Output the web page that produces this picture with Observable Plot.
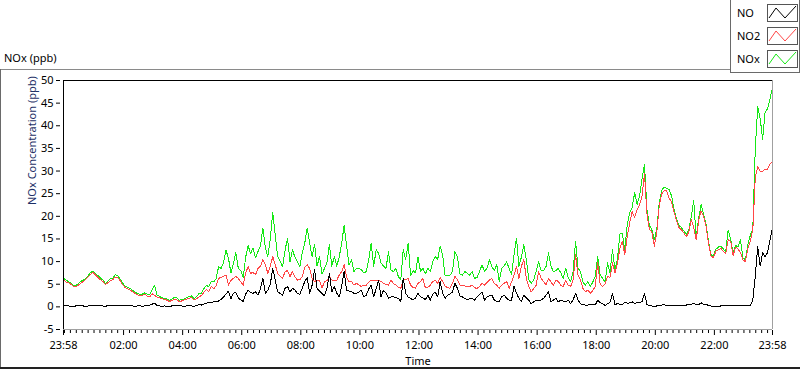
<!DOCTYPE html>
<html>
<head>
<meta charset="utf-8">
<script src="https://cdn.jsdelivr.net/npm/d3@7"></script>
<script src="https://cdn.jsdelivr.net/npm/@observablehq/plot@0.6"></script>
<style>
  body { margin: 0; background: #fff; }
  #wrap { position: relative; width: 800px; height: 369px; overflow: hidden; font-family: "Noto Sans", sans-serif; font-size: 11px; color: #000; background: #fff; }
  #wrap svg { position: absolute; left: 0; top: 0; }
  .abs { position: absolute; }
  .ltxt { position: absolute; left: 737px; font-size: 11px; line-height: 14px; color: #000; }
  .sw { position: absolute; left: 767px; width: 29px; height: 16px; border: 1px solid #555; background: #fff; }
</style>
</head>
<body>
<div id="wrap"></div>
<script>
// ---- data (5-minute samples starting 23:58) ----
const startTime = "2024-01-01T23:58:00Z";
const stepMinutes = 5;

const NO = [
  0.2,0.3,0.2,0.1,0.1,0.2,0.3,0.2,0.2,0.1, 0.2,0.3,0.3,0.2,0.4,0.3,0.2,0.1,0.3,0.2,
  0.2,0.4,0.3,0.2,0.3,0.2,0.2,0.3,0.2,0.1, 0.2,0.3,0.1,0.2,0.3,0.4,0.6,0.8,0.3,0.2,
  0.1,0.2,0.1,0.1,0.2,0.3,0.3,0.2,0.2,0.1, 0.2,0.2,0.2,0.1,0.3,0.5,0.4,0.6,0.8,1.0,
  0.9,
  1.1,1.2,1.3,1.6,2.2,2.8,3.5,1.8,3.0,3.2,2.0,1.5,
  1.2,2.8,3.7,3.2,3.0,3.3,2.6,4.0,6.3,3.0, 3.7,5.0,8.5,5.9,3.3,3.0,2.6,4.1,4.5,3.3,
  4.1,3.7,3.0,2.8,4.1,5.6,6.5,3.0,4.8,8.2, 4.1,3.5,3.0,2.4,4.0,7.4,3.3,4.5,3.0,2.2,
  4.5,7.8,3.7,3.5,3.3,3.0,3.0,3.3,3.7,2.2, 2.6,4.0,4.8,2.2,4.0,5.9,2.2,3.7,3.0,1.9,
  2.2,2.2,2.0,1.9,1.1,6.3,3.0,2.2,1.9,1.5, 2.0,3.0,2.2,2.0,1.6,
  2.6,1.5,2.8,3.3,2.2,5.6,3.0,1.9,2.6,2.8, 3.3,5.2,4.1,2.4,2.2,1.9,1.5,1.8,1.9,1.5,
  2.2,2.8,3.3,1.5,2.2,2.4,2.6,1.5,1.2,1.1, 2.2,2.6,1.9,1.5,1.5,4.5,3.0,1.9,1.1,2.6,
  2.0,1.5,0.7,1.1,1.5,1.5,1.5,1.9,2.6,3.3, 1.1,1.5,1.9,1.1,1.5,1.3,1.1,1.5,0.7,1.5,
  3.0,1.5,0.7,0.5,0.4,0.4,0.6,0.5,0.4,1.5, 0.9,0.7,
  0.3,0.7,1.0,3.0,0.5,0.7,0.6,0.5,1.0,0.8, 0.9,1.1,0.7,1.0,0.9,1.2,3.0,0.5,0.2,0.2,
  0.1,0.2,0.3,0.4,0.5,0.3,0.2,0.2,0.3,0.2, 0.2,0.3,0.2,0.4,0.6,0.5,0.8,0.4,0.5,0.9,
  0.5,0.6,0.3,0.2,0.1,0.2,0.1,0.2,0.3,0.2, 0.4,0.3,0.2,0.3,0.2,0.4,0.3,0.2,0.3,0.2,
  1.5,6.7,13.4,9.0,12.0,11.1,12.0,14.8,17.5
];
const NO2 = [
  6.0,5.5,5.3,5.0,4.6,4.4,4.8,5.2,5.6,6.0, 6.6,7.2,7.6,7.0,6.5,6.0,5.6,5.0,5.3,5.8,
  6.0,6.6,6.5,5.8,4.9,4.3,4.0,3.7,3.4,3.0, 2.7,2.4,2.5,2.8,2.4,2.2,2.9,2.5,2.2,2.0,
  1.8,1.6,1.5,1.2,1.4,1.7,1.6,1.2,1.3,1.5, 1.7,1.9,2.1,1.6,1.8,2.2,2.5,3.2,3.8,3.4,
  4.5,
  4.0,4.6,6.3,6.5,6.8,7.0,4.8,5.8,6.3,6.7,6.3,5.5,
  4.8,7.5,8.9,7.4,7.6,7.1,8.5,9.0,10.4,9.3, 7.4,9.0,11.1,9.3,7.4,6.8,6.3,7.8,8.0,6.7,
  7.8,6.7,5.9,6.0,6.7,8.8,9.3,8.5,6.3,5.6, 5.9,5.9,4.1,5.6,5.8,6.7,5.9,5.9,5.9,7.0,
  7.8,9.3,6.5,5.6,5.6,4.8,5.2,4.8,4.5,4.8, 4.8,5.5,5.9,5.9,5.9,5.8,5.6,5.2,5.0,4.8,
  5.9,5.2,4.8,4.3,4.1,5.9,6.0,6.3,4.8,4.3, 4.1,5.2,5.6,6.3,4.2,
  4.3,4.8,5.6,5.9,5.2,6.5,5.6,4.5,4.3,4.1, 5.2,6.7,6.0,4.8,4.8,4.6,4.5,4.5,4.8,4.2,
  4.1,4.5,5.2,4.8,5.4,5.9,6.3,5.2,4.8,4.1, 4.8,5.2,5.6,4.1,5.5,7.0,8.9,6.3,9.0,10.4,
  6.3,4.5,3.3,4.0,4.8,7.8,6.3,5.6,4.8,6.3, 5.5,4.8,5.9,5.6,4.8,4.5,5.9,4.8,4.5,5.9,
  11.5,7.1,5.9,4.1,3.3,3.7,3.0,3.6,4.5,9.7, 5.0,4.5,
  5.0,6.7,6.5,9.7,7.5,9.5,13.0,14.5,11.5,15.5, 18.6,21.0,19.8,21.5,22.5,24.5,29.5,20.5,17.1,16.5,
  13.4,16.5,22.3,25.0,25.6,25.6,24.0,23.2,21.0,19.0, 17.5,17.0,16.3,15.5,16.5,19.3,17.5,14.8,19.0,21.2,
  20.0,17.8,14.0,11.2,10.9,12.3,12.6,12.9,12.3,11.8, 14.8,14.5,11.3,13.2,12.8,12.0,10.4,10.0,13.0,14.6,
  17.0,28.5,31.0,30.0,30.0,30.4,30.4,31.6,32.0
];
const NOx = [
  6.3,5.9,5.6,5.2,4.8,4.7,5.1,5.6,5.9,6.2, 6.9,7.6,7.9,7.3,6.9,6.4,5.9,5.2,5.6,6.2,
  6.3,7.1,6.9,6.1,5.3,4.6,4.3,4.1,3.7,3.2, 3.0,2.8,2.8,3.1,2.8,2.7,3.8,4.8,2.6,2.3,
  2.0,1.9,1.7,1.4,1.7,2.1,2.0,1.5,1.6,1.7, 2.0,2.3,2.4,1.8,2.2,2.9,3.0,4.0,4.7,4.5,
  5.5,
  5.5,6.2,8.9,8.5,9.7,12.5,10.8,7.5,9.5,12.0,8.5,8.0,
  6.5,11.0,13.5,11.8,13.0,10.8,12.2,13.5,17.4,13.0, 11.1,15.0,20.9,16.0,11.1,10.0,8.9,12.5,15.2,10.0,
  12.6,11.0,10.0,8.9,12.0,14.1,17.4,14.0,11.1,13.8, 9.0,11.1,7.2,8.5,9.7,13.7,9.0,11.1,9.0,11.0,
  14.1,18.0,13.4,9.2,10.4,7.8,8.5,8.5,8.2,7.5, 7.8,10.5,14.1,8.9,12.6,11.8,9.7,9.0,8.5,12.2,
  8.2,7.8,8.5,6.7,6.0,12.6,10.5,14.1,6.9,8.0, 7.5,11.1,7.9,8.5,7.3,
  8.5,7.8,10.0,11.1,10.5,13.4,11.5,6.9,7.0,7.0, 7.8,12.2,11.1,7.3,7.0,7.8,7.4,7.0,7.8,6.3,
  6.5,7.8,9.3,7.8,8.5,10.4,8.9,8.0,9.3,5.6, 8.5,9.0,10.0,8.5,7.1,11.5,15.2,8.9,11.0,13.7,
  10.4,6.0,5.2,6.0,7.8,10.0,8.0,8.0,8.9,11.9, 9.0,7.8,8.0,8.5,7.5,6.3,8.5,6.5,5.6,7.8,
  14.5,8.6,7.8,5.5,4.8,5.6,4.5,5.5,6.7,11.1, 7.0,6.3,
  5.5,9.7,7.5,12.7,8.2,10.5,16.1,16.3,12.5,18.2, 20.8,22.0,25.2,22.6,24.5,28.2,31.5,21.5,18.0,17.0,
  14.8,17.2,23.0,25.8,26.4,26.2,25.9,24.5,21.5,19.5, 18.0,17.5,16.8,16.0,17.0,20.0,23.4,15.3,19.5,22.6,
  20.5,18.2,14.5,11.5,11.3,12.7,13.2,13.4,12.8,12.2, 17.0,15.0,11.8,13.6,13.2,14.8,10.8,10.4,13.8,15.8,
  17.3,35.0,44.2,41.6,37.0,43.0,43.8,46.0,48.5
];

const seriesNames = ["NO", "NO2", "NOx"];
const seriesColors = ["#000000", "#ff4646", "#16e816"];

const majorTickTimes = [
  "2024-01-01T23:58:00Z","2024-01-02T02:00:00Z","2024-01-02T04:00:00Z","2024-01-02T06:00:00Z",
  "2024-01-02T08:00:00Z","2024-01-02T10:00:00Z","2024-01-02T12:00:00Z","2024-01-02T14:00:00Z",
  "2024-01-02T16:00:00Z","2024-01-02T18:00:00Z","2024-01-02T20:00:00Z","2024-01-02T22:00:00Z",
  "2024-01-02T23:58:00Z"
];
const majorTickLabels = ["23:58","02:00","04:00","06:00","08:00","10:00","12:00","14:00","16:00","18:00","20:00","22:00","23:58"];
const yTicks = [-5,0,5,10,15,20,25,30,35,40,45,50];
const yTitle = "NOx Concentration (ppb)";
const xTitle = "Time";
const chartTitle = "NOx (ppb)";

// ---- build ----
const t0 = new Date(startTime);
const tEnd = new Date(majorTickTimes[majorTickTimes.length - 1]);
const rows = NO.map((v, i) => ({ t: new Date(+t0 + i * stepMinutes * 60000), NO: v, NO2: NO2[i], NOx: NOx[i] }));
const majors = majorTickTimes.map(s => new Date(s));
const labelMap = new Map(majors.map((d, i) => [+d, majorTickLabels[i]]));
const minors = d3.utcMinute.every(12).range(new Date("2024-01-02T00:00:00Z"), tEnd).filter(d => !labelMap.has(+d));

const chart = Plot.plot({
  width: 800, height: 369,
  marginLeft: 63, marginRight: 28, marginTop: 80, marginBottom: 40,
  x: { type: "utc", domain: [t0, tEnd] },
  y: { domain: [-5, 50] },
  style: { fontFamily: "'Noto Sans', sans-serif", fontSize: "11px", color: "#000", background: "transparent", overflow: "visible" },
  marks: [
    Plot.lineY(rows, { x: "t", y: "NOx", stroke: seriesColors[2], strokeWidth: 1, clip: true, shapeRendering: "crispEdges" }),
    Plot.lineY(rows, { x: "t", y: "NO2", stroke: seriesColors[1], strokeWidth: 1, clip: true, shapeRendering: "crispEdges" }),
    Plot.lineY(rows, { x: "t", y: "NO", stroke: seriesColors[0], strokeWidth: 1, clip: true, shapeRendering: "crispEdges" }),
    Plot.ruleY([-5], { stroke: "#a0a0a0" }),
    Plot.ruleX([tEnd], { stroke: "#a0a0a0" }),
    Plot.ruleY([50], { stroke: "#000" }),
    Plot.ruleX([t0], { stroke: "#000" }),
    Plot.axisY(yTicks, { tickSize: 4, tickPadding: 3, dx: -3, label: null, tickFormat: d => String(d) }),
    Plot.axisX(minors, { tickSize: 3, dy: 1, tickFormat: () => "", label: null }),
    Plot.axisX(majors, { tickSize: 5, dy: 1, tickPadding: 6, tickFormat: d => labelMap.get(+d), label: null }),
    Plot.text([yTitle], { frameAnchor: "left", dx: -31, rotate: -90, fill: "#1e2f66", fontSize: 11, lineAnchor: "middle" }),
    Plot.text([xTitle], { frameAnchor: "bottom", dy: 32, fontSize: 11, lineAnchor: "middle" })
  ]
});

const wrap = document.getElementById("wrap");
wrap.appendChild(chart);

// outer frame and title
const add = (html) => wrap.insertAdjacentHTML("beforeend", html);
add(`<div class="abs" style="left:0;top:69px;width:731px;height:1px;background:#8a8a8a"></div>`);
add(`<div class="abs" style="left:0;top:69px;width:1px;height:300px;background:#6a6a6a"></div>`);
add(`<div class="abs" style="left:0;top:367px;width:800px;height:2px;background:#222"></div>`);
add(`<div class="abs" style="left:4px;top:51px;font-size:11px;line-height:14px">${chartTitle}</div>`);

// legend
add(`<div class="abs" style="left:730px;top:-1px;width:68px;height:72px;border:1px solid #6a6a6a;background:#fff"></div>`);
const tops = [4, 27, 50];
seriesNames.forEach((name, i) => {
  add(`<div class="ltxt" style="top:${tops[i] + 2}px">${name}</div>`);
  add(`<div class="sw" style="top:${tops[i]}px"><svg width="29" height="16" style="position:absolute;left:0;top:0"><polyline points="1,13 8,3 17,13 28,1" fill="none" stroke="${seriesColors[i]}" stroke-width="1"/></svg></div>`);
});
</script>
</body>
</html>
